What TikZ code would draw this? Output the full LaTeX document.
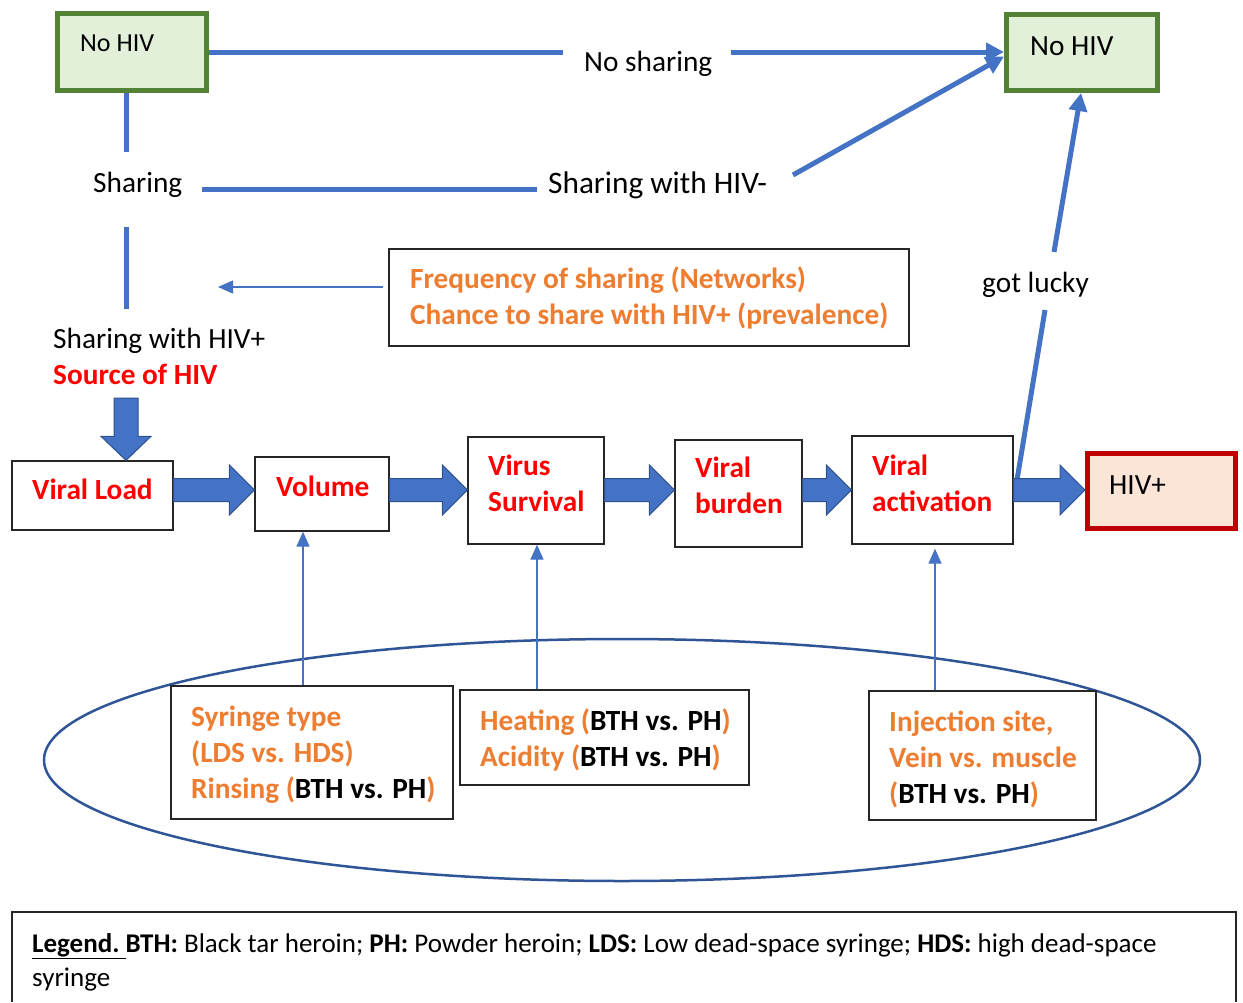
\documentclass[tikz,border=0pt]{standalone}
\usepackage{fontspec}
\setmainfont{Carlito}
\usetikzlibrary{arrows.meta,calc}
\definecolor{hblue}{HTML}{4472C4}
\definecolor{hdblue}{HTML}{2F528F}
\definecolor{hgreen}{HTML}{548235}
\definecolor{hlgreen}{HTML}{E2F0D9}
\definecolor{hred}{HTML}{C00000}
\definecolor{hpink}{HTML}{FBE5D6}
\definecolor{horange}{HTML}{ED7D31}
\definecolor{hell}{HTML}{2F5597}
\newcommand\blkh[2]{%
 \filldraw[blk] let \p1=#1, \p2=#2 in
  (\x1,\y2+11.5pt) -- (\x2-25pt,\y2+11.5pt) -- (\x2-25pt,\y2+25pt) -- (\x2,\y2)
  -- (\x2-25pt,\y2-25pt) -- (\x2-25pt,\y2-11.5pt) -- (\x1,\y2-11.5pt) -- cycle;}
\newcommand\blkv[2]{%
 \filldraw[blk] let \p1=#1, \p2=#2 in
  (\x1-12pt,\y1) -- (\x1-12pt,\y2+24pt) -- (\x1-25pt,\y2+24pt) -- (\x1,\y2)
  -- (\x1+25pt,\y2+24pt) -- (\x1+12pt,\y2+24pt) -- (\x1+12pt,\y1) -- cycle;}
\begin{document}
\begin{tikzpicture}[x=1pt,y=-1pt,
  every node/.style={inner sep=0pt},
  box/.style={draw=black!85, line width=1.3pt, fill=white},
  gbox/.style={draw=hgreen, line width=5pt, fill=hlgreen},
  rbox/.style={draw=hred, line width=5pt, fill=hpink},
  txt/.style={font=\fontsize{29.3}{36}\selectfont, anchor=base west, align=left},
  rtxt/.style={txt, text=red, font=\bfseries\fontsize{29.3}{36}\selectfont},
  otxt/.style={txt, text=horange, font=\bfseries\fontsize{29.3}{36}\selectfont},
  conn/.style={draw=hblue, line width=5pt},
  carrow/.style={conn, -{Triangle[width=18pt,length=18pt]}},
  tarrow/.style={draw=hblue, line width=1.3pt, -{Triangle[width=13pt,length=15pt]}},
  blk/.style={fill=hblue, draw=hdblue, line width=1pt},
]
\useasboundingbox (0,0) rectangle (1243,1002);

% top boxes
\node[gbox, minimum width=149pt, minimum height=77pt] (nohivL) at (132,52) {};
\node[txt, font=\fontsize{26}{32}\selectfont] (tnohivL) at (80,51) {No HIV};
\node[gbox, minimum width=151pt, minimum height=76pt] (nohivR) at (1082,52.5) {};
\node[txt] (tnohivR) at (1030,55) {No HIV};

% labels
\node[txt] (nosh) at (584,71) {No sharing};
\node[txt] (sharing) at (93,192) {Sharing};
\node[txt, font=\fontsize{31.3}{36}\selectfont] (shm) at (548,193) {Sharing with HIV-};
\node[txt] (shp) at (53,348) {Sharing with HIV+};
\node[rtxt] (src) at (53,384) {Source of HIV};
\node[txt] (lucky) at (982,292) {got lucky};

% frequency box
\node[box, minimum width=520pt, minimum height=97pt] (freq) at (649,297.5) {};
\node[otxt] (tfreq) at (410,324) {Frequency of sharing (Networks)\\Chance to share with HIV+ (prevalence)};

% main row
\node[box, minimum width=161pt, minimum height=69pt] (vl) at (92.5,495.5) {};
\node[rtxt] (tvl) at (32,499) {Viral Load};
\node[box, minimum width=134pt, minimum height=74pt] (vol) at (322,494) {};
\node[rtxt] (tvol) at (276,496) {Volume};
\node[box, minimum width=136pt, minimum height=107pt] (vs) at (536,490.5) {};
\node[rtxt] (tvs) at (488,511) {Virus\\Survival};
\node[box, minimum width=127pt, minimum height=107pt] (vb) at (738.5,493.5) {};
\node[rtxt] (tvb) at (695,513) {Viral\\burden};
\node[box, minimum width=161pt, minimum height=108pt] (va) at (932.5,490) {};
\node[rtxt] (tva) at (872,511) {Viral\\activation};
\node[rbox, minimum width=148pt, minimum height=75pt] (hivp) at (1161.5,491) {};
\node[txt] (thivp) at (1109,494) {HIV+};

% ellipse and factor boxes
\draw[hell, line width=2.5pt] (622,760) ellipse [x radius=578, y radius=121];
\node[box, minimum width=282pt, minimum height=133pt] (syr) at (312,752.5) {};
\node[otxt] (tsyr) at (191,798) {Syringe type\\(LDS vs. HDS)\\Rinsing (\textcolor{black}{BTH vs. PH})};
\node[box, minimum width=289pt, minimum height=95pt] (heat) at (604.5,737.5) {};
\node[otxt] (theat) at (480,766) {Heating (\textcolor{black}{BTH vs. PH})\\Acidity (\textcolor{black}{BTH vs. PH})};
\node[box, minimum width=227pt, minimum height=129pt] (inj) at (982.5,755.5) {};
\node[otxt] (tinj) at (889,803) {Injection site,\\Vein vs. muscle\\(\textcolor{black}{BTH vs. PH})};

% connectors (top part)
\coordinate (c1) at (126,152);
\coordinate (c2) at (126,227);
\coordinate (c3) at (126,309);
\draw[conn] (nohivL.south -| c1) -- (c1);
\draw[conn] (c2) -- (c3);
\coordinate (h1) at (202,189);
\coordinate (h2) at (537,189);
\draw[conn] (h1) -- (h2);
\coordinate (n1) at (563,52);
\coordinate (n2) at (731,52);
\draw[conn] (nohivL.east) -- (n1);
\draw[carrow] (n2) -- (nohivR.west |- n2);
\coordinate (d1) at (793,175);
\draw[carrow] (d1) -- ($(nohivR.west)+(0,4)$);
\coordinate (g1) at (1017,480);
\coordinate (g2) at (1045,310);
\coordinate (g3) at (1054,252);
\coordinate (g4) at (1081,0);
\draw[conn] (g1) -- (g2);
\draw[carrow] (g3) -- (nohivR.south -| g4);
\coordinate (f1) at (218,287);
\draw[tarrow] ($(freq.west |- f1)+(-5,0)$) -- (f1);

% block arrows
\coordinate (row) at (0,490);
\coordinate (b1) at (126,398);
\blkv{(b1)}{(vl.north -| b1)}
\blkh{(vl.east |- row)}{(vol.west |- row)}
\blkh{(vol.east |- row)}{(vs.west |- row)}
\blkh{(vs.east |- row)}{(vb.west |- row)}
\blkh{(vb.east |- row)}{(va.west |- row)}
\blkh{(va.east |- row)}{(hivp.west |- row)}

% thin arrows up
\coordinate (x1) at (303,0);
\coordinate (x2) at (537,0);
\coordinate (x3) at (935,0);
\draw[tarrow] (syr.north -| x1) -- (vol.south -| x1);
\draw[tarrow] (heat.north -| x2) -- (vs.south -| x2);
\draw[tarrow] (inj.north -| x3) -- ($(va.south -| x3)+(0,4)$);

% legend
\draw[line width=1.3pt, black!85] (12,1002) -- (12,912) -- (1236,912) -- (1236,1002);
\node[txt, font=\fontsize{27}{34}\selectfont] (leg) at (32,986)
 {\textbf{\underline{Legend.\ }}\textbf{BTH:} Black tar heroin; \textbf{PH:} Powder heroin; \textbf{LDS:} Low dead-space syringe; \textbf{HDS:} high dead-space\\syringe};
\end{tikzpicture}
\end{document}
